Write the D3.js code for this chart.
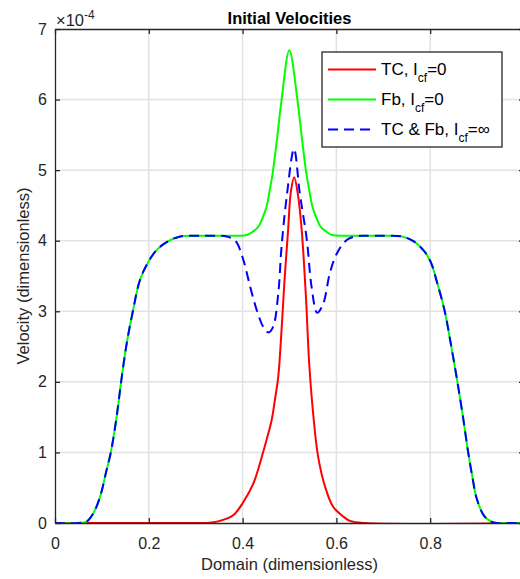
<!DOCTYPE html>
<html>
<head>
<meta charset="utf-8">
<script src="https://cdn.jsdelivr.net/npm/d3@7/dist/d3.min.js"></script>
<style>
  html, body { margin: 0; padding: 0; background: #fff; }
  svg { display: block; font-family: "Liberation Sans", Arial, Helvetica, sans-serif; }
</style>
</head>
<body>
<svg id="chart" width="520" height="579"></svg>
<script>
// ---- Data (velocity in units of 1e-4) ----
const domainTC = [0, 0.3, 0.33, 0.352, 0.38, 0.401, 0.423, 0.441, 0.452, 0.462, 0.469, 0.476, 0.483, 0.489, 0.497, 0.503, 0.51, 0.518, 0.526, 0.535, 0.542, 0.551, 0.561, 0.576, 0.593, 0.615, 0.629, 0.66, 1.0];
const velTC    = [0, 0, 0.005, 0.03, 0.11, 0.29, 0.56, 0.94, 1.2, 1.46, 1.75, 2.07, 2.73, 3.4, 4.15, 4.7, 4.9, 4.65, 4.15, 3.21, 2.26, 1.51, 0.94, 0.51, 0.23, 0.09, 0.03, 0, 0];

const domainFb = [0, 0.05, 0.0676, 0.082, 0.096, 0.110, 0.119, 0.1315, 0.141, 0.153, 0.166, 0.181, 0.199, 0.217, 0.238, 0.267, 0.309, 0.35, 0.39, 0.409, 0.42, 0.434, 0.443, 0.451, 0.458, 0.464, 0.473, 0.483, 0.4996, 0.517, 0.527, 0.536, 0.542, 0.549, 0.557, 0.566, 0.58, 0.591, 0.62, 0.65, 0.7, 0.74, 0.765, 0.785, 0.801, 0.815, 0.831, 0.845, 0.858, 0.87, 0.881, 0.89, 0.899, 0.915, 0.93, 0.942, 0.96, 1.0];
const velFb    = [0, 0, 0.02, 0.14, 0.37, 0.75, 1.0, 1.51, 2.0, 2.55, 3.0, 3.44, 3.70, 3.87, 3.98, 4.06, 4.07, 4.07, 4.07, 4.08, 4.12, 4.2, 4.33, 4.48, 4.72, 4.95, 5.42, 5.99, 6.70, 5.99, 5.42, 4.95, 4.72, 4.48, 4.33, 4.2, 4.12, 4.08, 4.07, 4.07, 4.07, 4.06, 3.99, 3.87, 3.7, 3.4, 3.0, 2.5, 2.0, 1.5, 1.0, 0.65, 0.35, 0.1, 0.02, 0, 0, 0];

const domainBoth = [0, 0.05, 0.0676, 0.082, 0.096, 0.110, 0.119, 0.1315, 0.141, 0.153, 0.166, 0.181, 0.199, 0.217, 0.238, 0.267, 0.309, 0.35, 0.366, 0.378, 0.387, 0.402, 0.416, 0.43, 0.444, 0.455, 0.465, 0.476, 0.483, 0.494, 0.5096, 0.522, 0.537, 0.547, 0.559, 0.572, 0.586, 0.601, 0.622, 0.64, 0.66, 0.7, 0.74, 0.765, 0.785, 0.801, 0.815, 0.831, 0.845, 0.858, 0.87, 0.881, 0.89, 0.899, 0.915, 0.93, 0.942, 0.96, 1.0];
const velBoth    = [0, 0, 0.02, 0.14, 0.37, 0.75, 1.0, 1.51, 2.0, 2.55, 3.0, 3.44, 3.70, 3.87, 3.98, 4.06, 4.07, 4.07, 4.06, 4.03, 3.98, 3.72, 3.35, 3.02, 2.78, 2.70, 2.78, 3.25, 3.91, 4.62, 5.30, 4.67, 4.01, 3.35, 2.98, 3.11, 3.54, 3.82, 4.01, 4.06, 4.07, 4.07, 4.06, 3.99, 3.87, 3.7, 3.4, 3.0, 2.5, 2.0, 1.5, 1.0, 0.65, 0.35, 0.1, 0.02, 0, 0, 0];

const xTicks = [0, 0.2, 0.4, 0.6, 0.8];
const xTickLabels = ["0", "0.2", "0.4", "0.6", "0.8"];
const yTicks = [0, 1, 2, 3, 4, 5, 6, 7];
const yTickLabels = ["0", "1", "2", "3", "4", "5", "6", "7"];

const titleText = "Initial Velocities";
const xLabel = "Domain (dimensionless)";
const yLabel = "Velocity (dimensionless)";

const series = [
  { name: "TC, I", sub: "cf", tail: "=0", xs: domainTC, ys: velTC, color: "#ff0000", dash: null },
  { name: "Fb, I", sub: "cf", tail: "=0", xs: domainFb, ys: velFb, color: "#00ff00", dash: null },
  { name: "TC & Fb, I", sub: "cf", tail: "=\u221E", xs: domainBoth, ys: velBoth, color: "#0000ff", dash: "10,6" }
];

// ---- Layout ----
const L = 55, R = 524, T = 29, B = 523;
const axisColor = "#262626";
const svg = d3.select("#chart");

const x = d3.scaleLinear().domain([0, 1]).range([L, R]);
const y = d3.scaleLinear().domain([0, 7]).range([B, T]);

// grid
const grid = svg.append("g").attr("stroke", "#e2e2e2").attr("stroke-width", 1.5);
grid.selectAll(".gx").data(xTicks.filter(d => d > 0)).join("line")
  .attr("x1", d => x(d)).attr("x2", d => x(d)).attr("y1", T).attr("y2", B);
grid.selectAll(".gy").data(yTicks.filter(d => d > 0 && d < 7)).join("line")
  .attr("x1", L).attr("x2", R).attr("y1", d => y(d)).attr("y2", d => y(d));

// clip
svg.append("clipPath").attr("id", "clip").append("rect")
  .attr("x", L).attr("y", T).attr("width", R - L).attr("height", B - T + 1);

const line = d3.line().x(d => x(d[0])).y(d => y(Math.max(0, d[1]))).curve(d3.curveCatmullRom.alpha(0.5));
const lines = svg.append("g").attr("clip-path", "url(#clip)");
series.forEach(s => {
  const pts = s.xs.map((v, i) => [v, s.ys[i]]);
  lines.append("path").datum(pts)
    .attr("d", line)
    .attr("fill", "none")
    .attr("stroke", s.color)
    .attr("stroke-width", 2)
    .attr("stroke-dasharray", s.dash)
    .attr("stroke-linejoin", "round");
});

// axes
function styleAxis(g) {
  g.select(".domain").attr("stroke", axisColor).attr("stroke-width", 1.3);
  g.selectAll(".tick line").attr("stroke", axisColor).attr("stroke-width", 1.3);
  g.selectAll(".tick text").attr("fill", axisColor).attr("font-size", 16)
    .attr("font-family", "'Liberation Sans', Arial, sans-serif");
}
const xAxis = svg.append("g").attr("transform", `translate(0,${B})`)
  .call(d3.axisBottom(x).tickValues(xTicks).tickFormat((d, i) => xTickLabels[i]).tickSize(-5).tickSizeOuter(0).tickPadding(14.5));
styleAxis(xAxis);
const xAxisTop = svg.append("g").attr("transform", `translate(0,${T})`)
  .call(d3.axisTop(x).tickValues(xTicks).tickFormat("").tickSize(-5).tickSizeOuter(0));
styleAxis(xAxisTop);
const yAxis = svg.append("g").attr("transform", `translate(${L},0)`)
  .call(d3.axisLeft(y).tickValues(yTicks).tickFormat((d, i) => yTickLabels[i]).tickSize(-5).tickSizeOuter(0).tickPadding(8));
styleAxis(yAxis);
const yAxisRight = svg.append("g").attr("transform", `translate(${R},0)`)
  .call(d3.axisRight(y).tickValues(yTicks).tickFormat("").tickSize(-5).tickSizeOuter(0));
styleAxis(yAxisRight);

// exponent
const expT = svg.append("text").attr("x", 56).attr("y", 26).attr("fill", axisColor)
  .attr("font-size", 16.5);
expT.append("tspan").text("\u00D710");
expT.append("tspan").attr("font-size", 12).attr("dy", -7.5).text("-4");

// title
svg.append("text").attr("x", (L + R) / 2).attr("y", 23.5).attr("text-anchor", "middle")
  .attr("font-size", 16.5).attr("font-weight", "bold").attr("fill", "#000").text(titleText);

// axis labels
svg.append("text").attr("x", (L + R) / 2).attr("y", 570).attr("text-anchor", "middle")
  .attr("font-size", 16.5).attr("fill", axisColor).text(xLabel);
svg.append("text").attr("transform", `translate(29,${(T + B) / 2}) rotate(-90)`)
  .attr("text-anchor", "middle").attr("font-size", 16.5).attr("fill", axisColor).text(yLabel);

// legend
const leg = svg.append("g");
leg.append("rect").attr("x", 322).attr("y", 52).attr("width", 180).attr("height", 95)
  .attr("fill", "#fff").attr("stroke", axisColor).attr("stroke-width", 1.3);
series.forEach((s, i) => {
  const cy = 69.5 + i * 30;
  leg.append("line").attr("x1", 328).attr("x2", 376).attr("y1", cy).attr("y2", cy)
    .attr("stroke", s.color).attr("stroke-width", 2).attr("stroke-dasharray", s.dash);
  const t = leg.append("text").attr("x", 381).attr("y", cy + 5.5).attr("font-size", 17).attr("fill", "#000");
  t.append("tspan").text(s.name);
  t.append("tspan").attr("font-size", 12).attr("dy", 6.5).text(s.sub);
  t.append("tspan").attr("dy", -6.5).text(s.tail);
});
</script>
</body>
</html>
